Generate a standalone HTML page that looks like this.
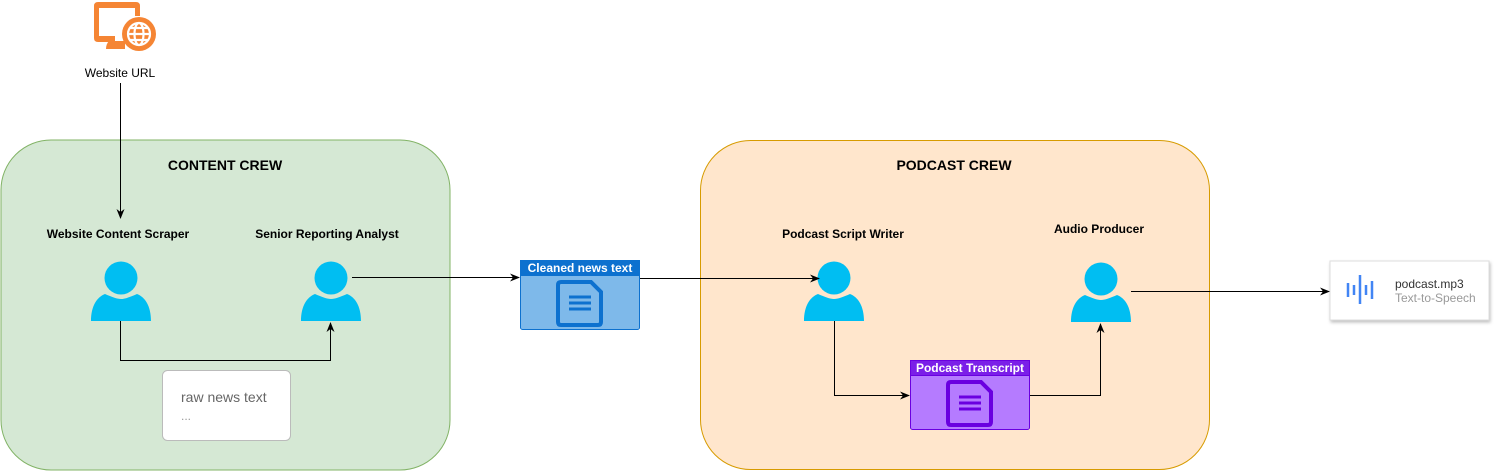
<!DOCTYPE html>
<html><head><meta charset="utf-8"><style>
body{margin:0;background:#fff}
svg{display:block}
text{font-family:"Liberation Sans",Arial,sans-serif}
</style></head><body>
<svg width="1497" height="471" viewBox="0 0 1497 471" xmlns="http://www.w3.org/2000/svg">
<defs>
<marker id="a" markerWidth="10" markerHeight="10" refX="9" refY="5" orient="auto" markerUnits="userSpaceOnUse"><path d="M0,1 L10,5 L0,9 L3,5 Z" fill="#000"/></marker>
<g id="p"><circle cx="0" cy="0" r="16.5" fill="#00BEF2"/><path d="M-30,43 C-30,28 -24,19 -16,16 C-9,19 -4,21 0,21 C4,21 9,19 16,16 C24,19 30,28 30,43 Z" fill="#00BEF2"/></g>
<filter id="sh" x="-10%" y="-10%" width="120%" height="130%"><feDropShadow dx="1" dy="2" stdDeviation="1.5" flood-opacity="0.25"/></filter>
</defs>
<rect x="1" y="140" width="449" height="330" rx="50" fill="#D5E8D4" stroke="#82B366"/>
<rect x="700.5" y="140.5" width="509" height="329" rx="50" fill="#FFE6CC" stroke="#D79B00"/>
<text x="225" y="170" font-size="14" font-weight="bold" text-anchor="middle">CONTENT CREW</text>
<text x="954" y="170" font-size="14" font-weight="bold" text-anchor="middle">PODCAST CREW</text>
<!-- monitor icon -->
<g fill="#F58534">
<path d="M94,6 Q94,2 98,2 L136,2 Q140,2 140,6 L140,16 L135,16 L135,8 L99,8 L99,36 L115,36 L115,42 L98,42 Q94,42 94,38 Z"/>
<path d="M109,41 L125,41 L125,49 L106,49 Q106,44 109,41 Z"/>
<circle cx="139" cy="34" r="17"/>
</g>
<g stroke="#fff" stroke-width="2.2" fill="none"><circle cx="139" cy="34" r="11"/><ellipse cx="139" cy="34" rx="4.5" ry="11"/><line x1="128" y1="34" x2="150" y2="34"/><line x1="130" y1="28" x2="148" y2="28"/><line x1="130" y1="40" x2="148" y2="40"/></g>
<text x="120" y="77" font-size="12" text-anchor="middle">Website URL</text>
<text x="118" y="238" font-size="12" font-weight="bold" text-anchor="middle">Website Content Scraper</text>
<text x="327" y="238" font-size="12" font-weight="bold" text-anchor="middle">Senior Reporting Analyst</text>
<text x="843" y="238" font-size="12" font-weight="bold" text-anchor="middle">Podcast Script Writer</text>
<text x="1099" y="233" font-size="12" font-weight="bold" text-anchor="middle">Audio Producer</text>
<use href="#p" x="121" y="278"/>
<use href="#p" x="331" y="278"/>
<use href="#p" x="834" y="278"/>
<use href="#p" x="1101" y="279"/>
<!-- raw box -->
<rect x="162.5" y="370.5" width="128" height="70" rx="5" fill="#fff" stroke="#BBBBBB"/>
<text x="181" y="402" font-size="14" fill="#666">raw news text</text>
<text x="181" y="420" font-size="12" fill="#999">...</text>
<!-- cleaned -->
<rect x="520.5" y="260.5" width="119" height="69" rx="2" fill="#7EB9EA" stroke="#0D71CF"/>
<rect x="520.5" y="260.5" width="119" height="15" fill="#0D71CF" stroke="#0D71CF"/>
<text x="580" y="272" font-size="12" font-weight="bold" fill="#fff" text-anchor="middle">Cleaned news text</text>
<path d="M561,282 L591,282 L601,292 L601,322 Q601,325 598,325 L561,325 Q558,325 558,322 L558,285 Q558,282 561,282 Z" fill="none" stroke="#0D71CF" stroke-width="4"/>
<g stroke="#0D71CF" stroke-width="3"><line x1="569" y1="297" x2="591" y2="297"/><line x1="569" y1="303" x2="591" y2="303"/><line x1="569" y1="309" x2="591" y2="309"/></g>
<!-- transcript -->
<rect x="910.5" y="360.5" width="119" height="69" rx="2" fill="#B57BFF" stroke="#6A00E0"/>
<rect x="910.5" y="360.5" width="119" height="15" fill="#7B1FE8" stroke="#6A00E0"/>
<text x="970" y="372" font-size="12" font-weight="bold" fill="#fff" text-anchor="middle">Podcast Transcript</text>
<path d="M951,382 L981,382 L991,392 L991,422 Q991,425 988,425 L951,425 Q948,425 948,422 L948,385 Q948,382 951,382 Z" fill="none" stroke="#6A00E0" stroke-width="4"/>
<g stroke="#6A00E0" stroke-width="3"><line x1="959" y1="397" x2="981" y2="397"/><line x1="959" y1="403" x2="981" y2="403"/><line x1="959" y1="409" x2="981" y2="409"/></g>
<!-- mp3 -->
<rect x="1330" y="261" width="159" height="59" fill="#fff" stroke="#ddd" filter="url(#sh)"/>
<g stroke="#4285F4" stroke-width="2.5"><line x1="1348" y1="283" x2="1348" y2="297"/><line x1="1354" y1="285" x2="1354" y2="295"/><line x1="1360" y1="275" x2="1360" y2="304"/><line x1="1366" y1="285" x2="1366" y2="295"/><line x1="1372" y1="281" x2="1372" y2="299"/></g>
<text x="1395" y="288" font-size="12" fill="#333">podcast.mp3</text>
<text x="1395" y="302" font-size="12" fill="#999">Text-to-Speech</text>
<!-- connectors -->
<g stroke="#000" stroke-width="1" fill="none">
<path d="M120.5,83 L120.5,218" marker-end="url(#a)"/>
<path d="M120.5,321 L120.5,360.5 L330.5,360.5 L330.5,323" marker-end="url(#a)"/>
<path d="M352,277.5 L519,277.5" marker-end="url(#a)"/>
<path d="M640,278.5 L819,278.5" marker-end="url(#a)"/>
<path d="M834.5,321 L834.5,395.5 L909,395.5" marker-end="url(#a)"/>
<path d="M1030,395.5 L1100.5,395.5 L1100.5,324" marker-end="url(#a)"/>
<path d="M1131,291.5 L1329,291.5" marker-end="url(#a)"/>
</g>
</svg>
</body></html>
